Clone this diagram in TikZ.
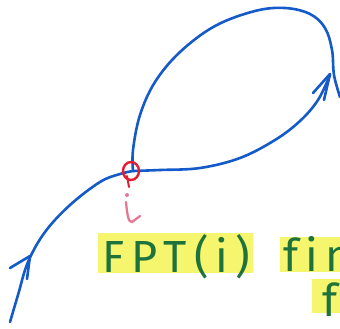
\documentclass[tikz,border=0pt]{standalone}
\usepackage{fontspec}
\setmainfont{Fira Sans}
\newfontfamily\handfont[LetterSpace=16,Ligatures=NoCommon]{Fira Sans}
\definecolor{penblue}{RGB}{20,90,200}
\definecolor{penred}{RGB}{225,30,50}
\definecolor{penpink}{RGB}{230,120,150}
\definecolor{hl}{RGB}{245,245,110}
\definecolor{pengreen}{RGB}{30,115,60}
\tikzset{
  pen/.style={draw=penblue, line width=2.6pt, line cap=round, line join=round},
  hlbox/.style={fill=hl, draw=none},
  hand/.style={text=pengreen, font=\handfont\fontsize{45}{50}\selectfont, inner sep=0pt, anchor=west},
}
\begin{document}
\begin{tikzpicture}[x=1pt, y=-1pt]
\useasboundingbox (0,0) rectangle (340,329);
\clip (0,0) rectangle (340,329);
\fill[white] (0,0) rectangle (340,329);
% highlights
\fill[hlbox] (98,233) rectangle (253,273);
\fill[hlbox] (280,237) rectangle (341,272);
\fill[hlbox] (312,279) rectangle (341,313);
% point i
\coordinate (i) at (133,171);
\coordinate (s) at (10,322);
\coordinate (e) at (340,97);
% incoming curve
\draw[pen] plot[smooth, tension=0.6] coordinates {(s) (18,295) (28,262) (45,232) (70,205) (100,182) (120,174) (i)};
\draw[pen] (10,268) -- (30,256) -- (27,279);
% lower right curve
\draw[pen] plot[smooth, tension=0.6] coordinates {(i) (160,170) (200,168) (240,158) (275,140) (300,121) (318,100) (330,75)};
\draw[pen] (313,93) -- (330,74) -- (324,100);
% loop
\draw[pen] plot[smooth, tension=0.6] coordinates {(i) (133,150) (140,115) (155,82) (180,52) (215,26) (255,11) (285,8) (310,14) (325,28) (332,50) (334,75) (e)};
% red circle
\draw[penred, line width=2.4pt] (131,171) ellipse (8 and 9);
\draw[penred, line width=2pt, line cap=round] (127,176) -- (129,187);
% pink i
\fill[penpink] (127,195) circle (2);
\draw[penpink, line width=2.3pt, line cap=round] (126,202) .. controls (127,212) and (128,223) .. (132,222) -- (140,216);
% text
\node[hand] (fpt) at (102,257) {FPT(i)};
\node[hand] (fin) at (283,254) {fin};
\node[hand] (f2) at (322,300) {f};
\end{tikzpicture}
\end{document}
